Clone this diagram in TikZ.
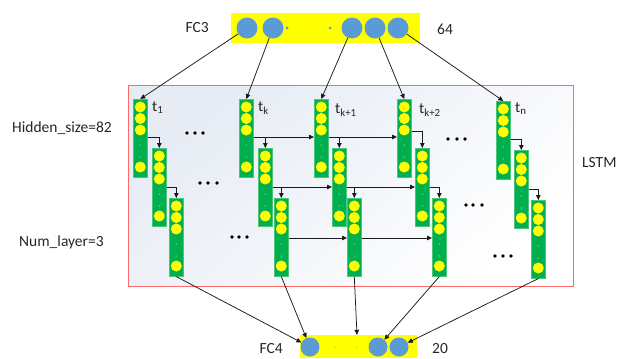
\documentclass[tikz,border=0pt]{standalone}
\usepackage{fontspec}
\setmainfont{Carlito}
\usetikzlibrary{calc,arrows.meta}
\definecolor{cgreen}{HTML}{00B050}
\definecolor{cgreenb}{HTML}{4CC47A}
\definecolor{cyel}{HTML}{FFFF00}
\definecolor{cblue}{HTML}{5B9BD5}
\definecolor{cdot}{HTML}{9AD94F}
\definecolor{cred}{HTML}{FF6B6B}
\definecolor{cbg}{HTML}{E6EBF4}
\definecolor{ctext}{HTML}{262626}
\definecolor{cline}{HTML}{1A1A1A}
\newcommand\lstmcol[3]{%
  \node[cell] (#1) at (#2,#3) {};
  \foreach \d [count=\i] in {8,19.5,31,68} {\node[unit] (#1u\i) at ($(#1.north)+(0,\d)$) {};}
  \foreach \d [count=\i] in {46,58} {\node[sdot] (#1d\i) at ($(#1.north)+(0,\d)$) {};}
}
\begin{document}
\begin{tikzpicture}[x=1pt,y=-1pt,
  font=\fontsize{15.5}{18}\selectfont,
  cell/.style={draw=cgreenb, line width=0.6pt, fill=cgreen, minimum width=14pt, minimum height=78pt, inner sep=0pt, anchor=north west},
  unit/.style={circle, fill=cyel, minimum size=11pt, inner sep=0pt},
  sdot/.style={circle, fill=cdot, minimum size=1.4pt, inner sep=0pt},
  bar/.style={fill=cyel, inner sep=0pt},
  bunit/.style={circle, fill=cblue, inner sep=0pt},
  bdot/.style={circle, fill=cblue, minimum size=3pt, inner sep=0pt},
  lbl/.style={text=ctext, inner sep=0pt},
  arr/.style={-{Triangle[length=5pt,width=4.5pt]}, line width=0.75pt, draw=cline},
  ell/.style={fill=black}
]
\useasboundingbox (0,0) rectangle (619,359);
% LSTM box
\shade[top color=cbg, bottom color=white, shading angle=40] (128,85) rectangle (573,286);
\draw[cred, line width=0.8pt] (128,85) rectangle (573,286);

% FC3 bar
\node[bar, minimum width=189pt, minimum height=30pt] (fc3) at (325.5,28) {};
\foreach \x [count=\i] in {247,273,352,375,398} {\node[bunit, minimum size=21pt] (f\i) at (\x,28) {};}
\node[bdot] (fd1) at (287,28) {};
\node[bdot] (fd2) at (330,28) {};

% FC4 bar
\node[bar, minimum width=117pt, minimum height=23pt] (fc4) at (358.5,346.5) {};
\foreach \x [count=\i] in {310,378,399} {\node[bunit, minimum size=19pt] (g\i) at (\x,347) {};}
\node[bdot, minimum size=1.5pt, fill=cblue!70] (gd1) at (335,347) {};
\node[bdot, minimum size=1.5pt, fill=cblue!70] (gd2) at (357,347) {};
\coordinate (fc4in) at (gd2 |- fc4.north);

% columns
\lstmcol{c11}{133}{99}
\lstmcol{c1k}{239}{99}
\lstmcol{c1a}{314}{99}
\lstmcol{c1b}{397}{99}
\lstmcol{c1n}{496}{101}
\lstmcol{c21}{152}{148}
\lstmcol{c2k}{258}{148}
\lstmcol{c2a}{332}{148}
\lstmcol{c2b}{415}{148}
\lstmcol{c2n}{514}{150}
\lstmcol{c31}{169}{198}
\lstmcol{c3k}{274}{198}
\lstmcol{c3a}{347}{198}
\lstmcol{c3b}{432}{198}
\lstmcol{c3n}{531}{200}

% layer 1 connectors
\draw[arr] ($(c11.north east)+(0,38)$) -| (c21.north);
\draw[arr] ($(c1k.north east)+(0,38)$) -- ($(c1a.north west)+(0,38)$);
\draw[arr] ($(c1k.north east)+(0,38)$) -| (c2k.north);
\draw[arr] ($(c1a.north east)+(0,38)$) -- ($(c1b.north west)+(0,38)$);
\draw[arr] ($(c1a.north east)+(0,38)$) -| (c2a.north);
\draw[arr] ($(c1b.north east)+(0,32)$) -| (c2b.north);
\draw[arr] ($(c1n.north east)+(0,38)$) -| (c2n.north);
% layer 2 connectors
\draw[arr] ($(c21.north east)+(0,39)$) -| (c31.north);
\draw[arr] ($(c2k.north east)+(0,39)$) -- ($(c2a.north west)+(0,39)$);
\draw[arr] ($(c2k.north east)+(0,39)$) -| (c3k.north);
\draw[arr] ($(c2a.north east)+(0,39)$) -- ($(c2b.north west)+(0,39)$);
\draw[arr] ($(c2a.north east)+(0,39)$) -| (c3a.north);
\draw[arr] ($(c2b.north east)+(0,39)$) -| (c3b.north);
\draw[arr] ($(c2n.north east)+(0,39)$) -| (c3n.north);
% layer 3 connectors
\draw[arr] ($(c3k.north east)+(0,40)$) -- ($(c3a.north west)+(0,40)$);
\draw[arr] ($(c3a.north east)+(0,40)$) -- ($(c3b.north west)+(0,40)$);

% FC3 to layer 1
\draw[arr] (f1) -- (c11.north);
\draw[arr] (f2) -- (c1k.north);
\draw[arr] (f3) -- (c1a.north);
\draw[arr] (f4) -- (c1b.north);
\draw[arr] (f5) -- (c1n.north);

% layer 3 to FC4
\draw[arr] (c31.south) -- (g1);
\draw[arr] (c3k.south) -- (g1);
\draw[arr] (c3a.south) -- (fc4in);
\draw[arr] (c3b.south) -- (g2);
\draw[arr] (c3n.south) -- (g3);

% ellipses
\foreach \x/\y in {187/133,195/133,203/133, 200/183,208/183,217/183, 232/237,239/237,247/237,
                   448/139,457/139,465/139, 466/205,473/205,482/205, 495/256,503/256,511/256}
  {\fill[ell] (\x,\y) circle (1.8pt);}

% time labels
\node[lbl, anchor=west] (lt1) at (152,108) {t\textsubscript{1}};
\node[lbl, anchor=west] (ltk) at (258,108) {t\textsubscript{k}};
\node[lbl, anchor=west] (lta) at (335,110) {t\textsubscript{k+1}};
\node[lbl, anchor=west] (ltb) at (419,110) {t\textsubscript{k+2}};
\node[lbl, anchor=west] (ltn) at (515,109) {t\textsubscript{n}};

% other labels
\node[lbl, anchor=east] (lfc3) at (209,28) {FC3};
\node[lbl, anchor=west] (l64) at (437,29) {64};
\node[lbl, anchor=east] (lfc4) at (283,349) {FC4};
\node[lbl, anchor=west] (l20) at (432,349) {20};
\node[lbl, anchor=west] (lhid) at (12,128) {Hidden\_size=82};
\node[lbl, anchor=west] (lnum) at (19,242) {Num\_layer=3};
\node[lbl, anchor=west] (llstm) at (582,163) {LSTM};
\end{tikzpicture}
\end{document}
